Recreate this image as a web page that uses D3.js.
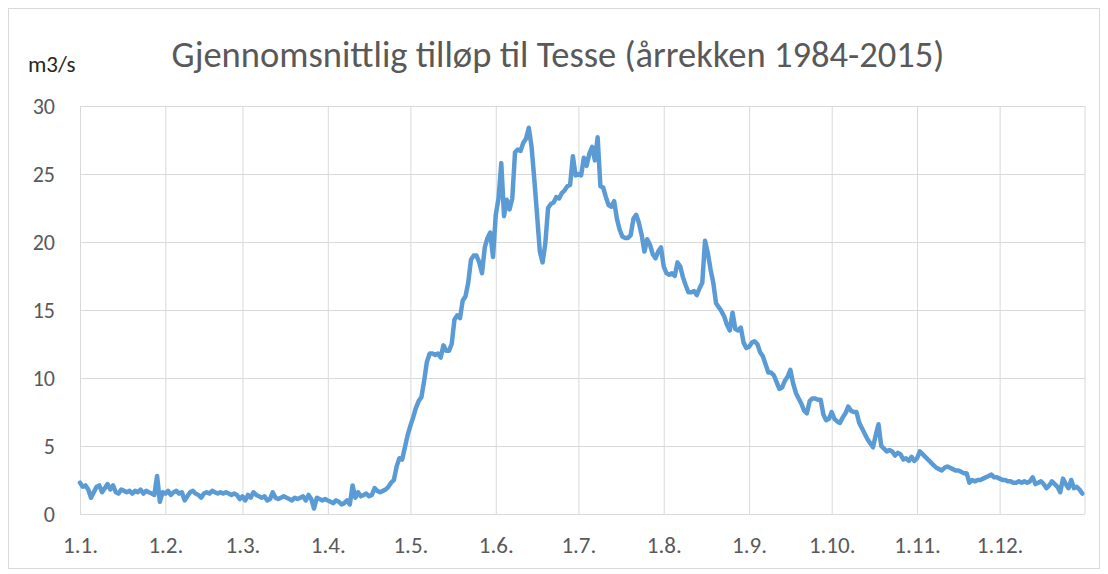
<!DOCTYPE html>
<html>
<head>
<meta charset="utf-8">
<script src="https://cdn.jsdelivr.net/npm/d3@7"></script>
<style>
  body { margin: 0; background: #fff; }
  .grid line { stroke: #d9d9d9; stroke-width: 1; }
  .grid .domain { display: none; }
  .grid text { fill: #595959; font-family: Carlito, Calibri, Lato, sans-serif; }
</style>
</head>
<body>
<div id="chart"></div>
<script>
var title = 'Gjennomsnittlig tilløp til Tesse (årrekken 1984-2015)';
var unit = 'm3/s';
var monthLabels = ['1.1.', '1.2.', '1.3.', '1.4.', '1.5.', '1.6.', '1.7.', '1.8.', '1.9.', '1.10.', '1.11.', '1.12.'];
var yTicks = [0, 5, 10, 15, 20, 25, 30];

// daily mean inflow, m3/s, one array per month
var jan = [2.3,2.0,2.1,1.8,1.2,1.6,2.0,2.1,1.6,1.9,2.2,1.8,2.1,1.6,1.5,1.8,1.7,1.6,1.7,1.5,1.7,1.6,1.8,1.5,1.7,1.6,1.5,1.4,2.8,0.9,1.6];
var feb = [1.5,1.7,1.4,1.6,1.7,1.5,1.6,1.0,1.3,1.6,1.7,1.5,1.4,1.2,1.5,1.6,1.5,1.7,1.6,1.5,1.6,1.5,1.6,1.5,1.4,1.5,1.4,1.1];
var mar = [1.3,1.0,1.4,1.2,1.6,1.4,1.3,1.2,1.3,1.0,1.1,1.6,1.2,1.1,1.2,1.3,1.2,1.1,1.0,1.2,1.1,1.2,1.3,1.0,1.4,1.1,0.4,1.2,1.1,1.0,1.1];
var apr = [1.0,0.9,0.8,1.0,0.9,0.7,0.8,1.0,0.7,2.1,1.2,1.6,1.3,1.4,1.5,1.3,1.4,1.9,1.7,1.6,1.7,1.8,2.0,2.3,2.5,3.5,4.1,4.0,4.9,5.8];
var may = [6.5,7.1,7.8,8.3,8.6,9.8,11.2,11.8,11.8,11.7,11.8,11.5,12.4,12.0,12.0,12.5,14.3,14.6,14.4,15.7,16.0,17.0,18.7,19.0,19.0,18.5,17.7,19.6,20.3,20.7,18.9];
var jun = [22.0,23.2,25.8,21.9,23.1,22.4,23.2,26.6,26.8,26.7,27.3,27.6,28.4,27.0,24.6,22.0,19.3,18.5,19.9,22.5,22.8,22.9,23.3,23.2,23.6,23.8,24.1,24.2,26.3,24.9];
var jul = [25.0,24.9,26.2,25.6,26.5,27.0,26.0,27.7,24.1,24.0,23.3,22.7,22.6,23.0,21.7,20.9,20.4,20.3,20.3,20.5,21.7,22.0,21.4,20.5,19.3,20.2,19.8,19.1,18.8,19.3,19.6];
var aug = [18.2,17.7,17.6,17.7,17.5,18.5,18.2,17.4,16.8,16.3,16.3,16.4,16.1,16.6,17.0,20.1,19.2,18.0,17.0,15.5,15.2,14.9,14.5,13.9,13.5,14.8,13.6,13.5,13.7,12.6,12.2];
var sep = [12.3,12.6,12.7,12.5,11.9,11.6,11.0,10.4,10.4,10.2,9.7,9.2,9.3,9.8,10.1,10.6,9.6,8.9,8.5,8.1,7.6,7.4,8.3,8.5,8.5,8.4,8.4,7.3,6.9,7.0];
var oct = [7.5,7.0,6.8,6.7,7.1,7.4,7.9,7.6,7.5,7.5,6.7,6.3,5.9,5.5,5.2,4.9,5.8,6.6,5.0,4.8,4.6,4.7,4.6,4.3,4.5,4.4,4.0,4.1,3.9,4.2,3.9];
var nov = [4.1,4.6,4.4,4.2,4.0,3.8,3.6,3.4,3.3,3.2,3.4,3.5,3.4,3.3,3.2,3.2,3.1,3.0,3.0,2.3,2.5,2.4,2.5,2.5,2.6,2.7,2.8,2.9,2.7,2.7];
var dec = [2.6,2.5,2.5,2.4,2.4,2.3,2.3,2.4,2.3,2.4,2.3,2.4,2.7,2.2,2.3,2.4,2.2,1.9,2.1,2.4,2.2,2.0,1.6,2.6,2.2,1.9,2.5,1.9,2.0,1.8,1.5];

var months = [jan, feb, mar, apr, may, jun, jul, aug, sep, oct, nov, dec];

var w = 1108, h = 574,
    pLeft = 80, pRight = 1085, pTop = 106, pBottom = 514,
    font = 'Carlito, Calibri, Lato, sans-serif';

var data = [];
months.forEach(function(m, i) {
  m.forEach(function(v, k) {
    data.push({date: new Date(2015, i, k + 1), val: v});
  });
});

var monthStarts = monthLabels.map(function(d, i) { return new Date(2015, i, 1); });

var x = d3.scaleTime()
  .domain([new Date(2015, 0, 1), new Date(2016, 0, 1)])
  .range([pLeft, pRight]);

var y = d3.scaleLinear()
  .domain([0, 30])
  .range([pBottom, pTop]);

var svg = d3.select('#chart')
  .append('svg')
  .attr('width', w)
  .attr('height', h);

// chart border
svg.append('rect')
  .attr('x', 8.5)
  .attr('y', 8.5)
  .attr('width', 1091)
  .attr('height', 560)
  .attr('fill', '#fff')
  .attr('stroke', '#d9d9d9');

// horizontal grid + y labels
svg.append('g')
  .attr('class', 'grid')
  .attr('transform', 'translate(' + pLeft + ',0)')
  .call(d3.axisLeft(y)
    .tickValues(yTicks)
    .tickSize(-(pRight - pLeft))
    .tickPadding(25))
  .selectAll('text')
  .attr('font-size', 22);

// vertical grid + month labels
var xg = svg.append('g')
  .attr('class', 'grid')
  .attr('transform', 'translate(0,' + pBottom + ')')
  .call(d3.axisBottom(x)
    .tickValues(monthStarts)
    .tickFormat(function(d, i) { return monthLabels[i]; })
    .tickSize(-(pBottom - pTop))
    .tickPadding(23));
xg.selectAll('text').attr('font-size', 23);

// right edge of the plot
svg.append('line')
  .attr('x1', pRight).attr('x2', pRight)
  .attr('y1', pTop).attr('y2', pBottom)
  .attr('stroke', '#d9d9d9');

svg.append('path')
  .datum(data)
  .attr('fill', 'none')
  .attr('stroke', '#5b9bd5')
  .attr('stroke-width', 4.5)
  .attr('stroke-linejoin', 'round')
  .attr('stroke-linecap', 'round')
  .attr('d', d3.line()
    .x(function(d) { return x(d.date); })
    .y(function(d) { return y(d.val); }));

var t = svg.append('text')
  .attr('x', 558)
  .attr('y', 67)
  .attr('text-anchor', 'middle')
  .attr('font-family', font)
  .attr('font-size', 28)
  .attr('fill', '#595959')
  .text(title);
// fit the title to the width seen in the reference
var tw = t.node().getComputedTextLength();
t.attr('font-size', 28 * 773 / tw);

svg.append('text')
  .attr('x', 28)
  .attr('y', 72)
  .attr('font-family', font)
  .attr('font-size', 23)
  .attr('fill', '#262626')
  .text(unit);
</script>
</body>
</html>
